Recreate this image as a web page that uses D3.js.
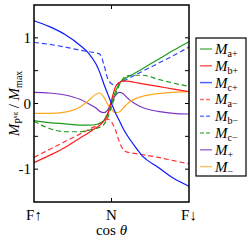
<!DOCTYPE html>
<html>
<head>
<meta charset="utf-8">
<script src="https://cdn.jsdelivr.net/npm/d3@7"></script>
<style>
  body { margin: 0; background: #fff; }
  text { font-family: "Liberation Serif", "DejaVu Serif", serif; }
</style>
</head>
<body>
<div id="chart-area"></div>
<script>
// cos theta sample positions (-1 = F up, 0 = N, 1 = F down)
var xs = [-1, -0.8, -0.6, -0.4, -0.3, -0.2, -0.15, -0.1, -0.05, 0, 0.05, 0.1, 0.15, 0.2, 0.3, 0.4, 0.6, 0.8, 1];

var maPlus  = [-0.26, -0.29, -0.31, -0.33, -0.33, -0.32, -0.30, -0.26, -0.15, 0.00, 0.18, 0.30, 0.36, 0.40, 0.46, 0.53, 0.67, 0.81, 0.94];
var mbPlus  = [-0.90, -0.79, -0.67, -0.52, -0.45, -0.37, -0.33, -0.27, -0.18, 0.05, 0.25, 0.32, 0.34, 0.34, 0.32, 0.30, 0.26, 0.22, 0.18];
var mcPlus  = [1.26, 1.17, 1.05, 0.88, 0.77, 0.60, 0.47, 0.30, 0.15, 0.00, -0.14, -0.26, -0.38, -0.48, -0.65, -0.80, -0.97, -1.14, -1.26];
var maMinus = [-0.82, -0.70, -0.58, -0.46, -0.40, -0.34, -0.30, -0.27, -0.24, -0.28, -0.40, -0.58, -0.70, -0.74, -0.76, -0.78, -0.82, -0.87, -0.92];
var mbMinus = [0.93, 0.90, 0.86, 0.81, 0.79, 0.77, 0.75, 0.60, 0.38, 0.30, 0.28, 0.31, 0.34, 0.37, 0.43, 0.49, 0.61, 0.73, 0.86];
var mcMinus = [-0.27, -0.38, -0.43, -0.43, -0.41, -0.38, -0.36, -0.32, -0.22, -0.05, 0.12, 0.28, 0.38, 0.42, 0.43, 0.43, 0.37, 0.31, 0.26];
var mPlus   = [0.17, 0.16, 0.13, 0.06, 0.00, -0.07, -0.12, -0.14, -0.10, 0.02, 0.12, 0.17, 0.15, 0.09, 0.00, -0.06, -0.12, -0.15, -0.16];
var mMinus  = [-0.15, -0.15, -0.13, -0.05, 0.04, 0.14, 0.16, 0.10, -0.01, -0.09, -0.14, -0.13, -0.07, -0.01, 0.07, 0.11, 0.15, 0.17, 0.18];

var seriesNames = ["a+", "b+", "c+", "a\u2212", "b\u2212", "c\u2212", "+", "\u2212"];
var seriesData = [maPlus, mbPlus, mcPlus, maMinus, mbMinus, mcMinus, mPlus, mMinus];
var seriesColors = ["#1c9a1c", "#ff1a1a", "#0a1aff", "#ff3030", "#3040ff", "#1c9a1c", "#7d35c0", "#ffa820"];
var seriesDashed = [false, false, false, true, true, true, false, false];

var xTickVals = [-1, 0, 1];
var xTickLabels = ["F\u2191", "N", "F\u2193"];
var yTickVals = [-1, 0, 1];
var yMinorVals = [-1, -0.5, 0, 0.5, 1];

var margins = { left: 34, right: 60, top: 5, bottom: 39 };
var width = 249 - margins.left - margins.right;
var height = 241 - margins.top - margins.bottom;

var svg = d3.select("#chart-area")
    .append("svg")
    .attr("width", 249)
    .attr("height", 241);

var g = svg.append("g")
    .attr("transform", "translate(" + margins.left + "," + margins.top + ")");

var x = d3.scaleLinear().domain([-1, 1]).range([0, width]);
var y = d3.scaleLinear().domain([-1.5, 1.5]).range([height, 0]);

// curves
var line = d3.line()
    .curve(d3.curveMonotoneX)
    .x(function(d) { return x(d[0]); })
    .y(function(d) { return y(d[1]); });

// draw order: back to front roughly
var order = [6, 7, 3, 4, 5, 0, 1, 2];
order.forEach(function(i) {
  var pts = xs.map(function(v, k) { return [v, seriesData[i][k]]; });
  g.append("path")
    .datum(pts)
    .attr("fill", "none")
    .attr("stroke", seriesColors[i])
    .attr("stroke-width", 1.2)
    .attr("stroke-dasharray", seriesDashed[i] ? "5,3" : null)
    .attr("d", line);
});

// frame
g.append("rect")
  .attr("width", width)
  .attr("height", height)
  .attr("fill", "none")
  .attr("stroke", "#000")
  .attr("stroke-width", 1.5);

// inward ticks
var tk = 4;
yMinorVals.forEach(function(v) {
  g.append("line").attr("x1", 0).attr("x2", tk).attr("y1", y(v)).attr("y2", y(v)).attr("stroke", "#000");
  g.append("line").attr("x1", width - tk).attr("x2", width).attr("y1", y(v)).attr("y2", y(v)).attr("stroke", "#000");
});
g.append("line").attr("x1", x(0)).attr("x2", x(0)).attr("y1", height).attr("y2", height - tk).attr("stroke", "#000");
g.append("line").attr("x1", x(0)).attr("x2", x(0)).attr("y1", 0).attr("y2", tk).attr("stroke", "#000");

// tick labels
g.selectAll(".ylab")
  .data(yTickVals)
  .enter().append("text")
  .attr("x", -3)
  .attr("y", function(d) { return y(d) + 5; })
  .attr("text-anchor", "end")
  .attr("font-size", 15)
  .text(function(d) { return d; });

g.selectAll(".xlab")
  .data(xTickVals)
  .enter().append("text")
  .attr("x", function(d) { return x(d); })
  .attr("y", height + 18)
  .attr("text-anchor", "middle")
  .attr("font-size", 15)
  .text(function(d, i) { return xTickLabels[i]; });

// axis titles
var xt = g.append("text")
  .attr("x", x(0))
  .attr("y", height + 33)
  .attr("text-anchor", "middle")
  .attr("font-size", 15);
xt.append("tspan").text("cos ");
xt.append("tspan").attr("font-style", "italic").text("\u03B8");

var yt = svg.append("text")
  .attr("transform", "translate(19," + (margins.top + y(0)) + ") rotate(-90)")
  .attr("text-anchor", "middle")
  .attr("font-size", 15);
yt.append("tspan").attr("font-style", "italic").text("M");
yt.append("tspan").attr("font-size", 10).attr("dy", 3).text("P");
yt.append("tspan").attr("font-size", 7).attr("dy", -5).text("sg");
yt.append("tspan").attr("dy", 2).text(" / ");
yt.append("tspan").attr("font-style", "italic").text("M");
yt.append("tspan").attr("font-size", 10).attr("dy", 3).text("max");

// legend
var lg = svg.append("g").attr("transform", "translate(196,38)");
lg.append("rect")
  .attr("width", 50)
  .attr("height", 138)
  .attr("fill", "#fff")
  .attr("stroke", "#000")
  .attr("stroke-width", 1.2);

seriesNames.forEach(function(name, i) {
  var yy = 11 + i * 16.8;
  lg.append("line")
    .attr("x1", 4).attr("x2", 16)
    .attr("y1", yy).attr("y2", yy)
    .attr("stroke", seriesColors[i])
    .attr("stroke-opacity", 0.7)
    .attr("stroke-width", 1.5)
    .attr("stroke-dasharray", seriesDashed[i] ? "4,2" : null);
  var t = lg.append("text")
    .attr("x", 19)
    .attr("y", yy + 5)
    .attr("font-size", 15);
  t.append("tspan").attr("font-style", "italic").text("M");
  t.append("tspan").attr("font-size", 10).attr("dy", 3).text(name);
});
</script>
</body>
</html>
